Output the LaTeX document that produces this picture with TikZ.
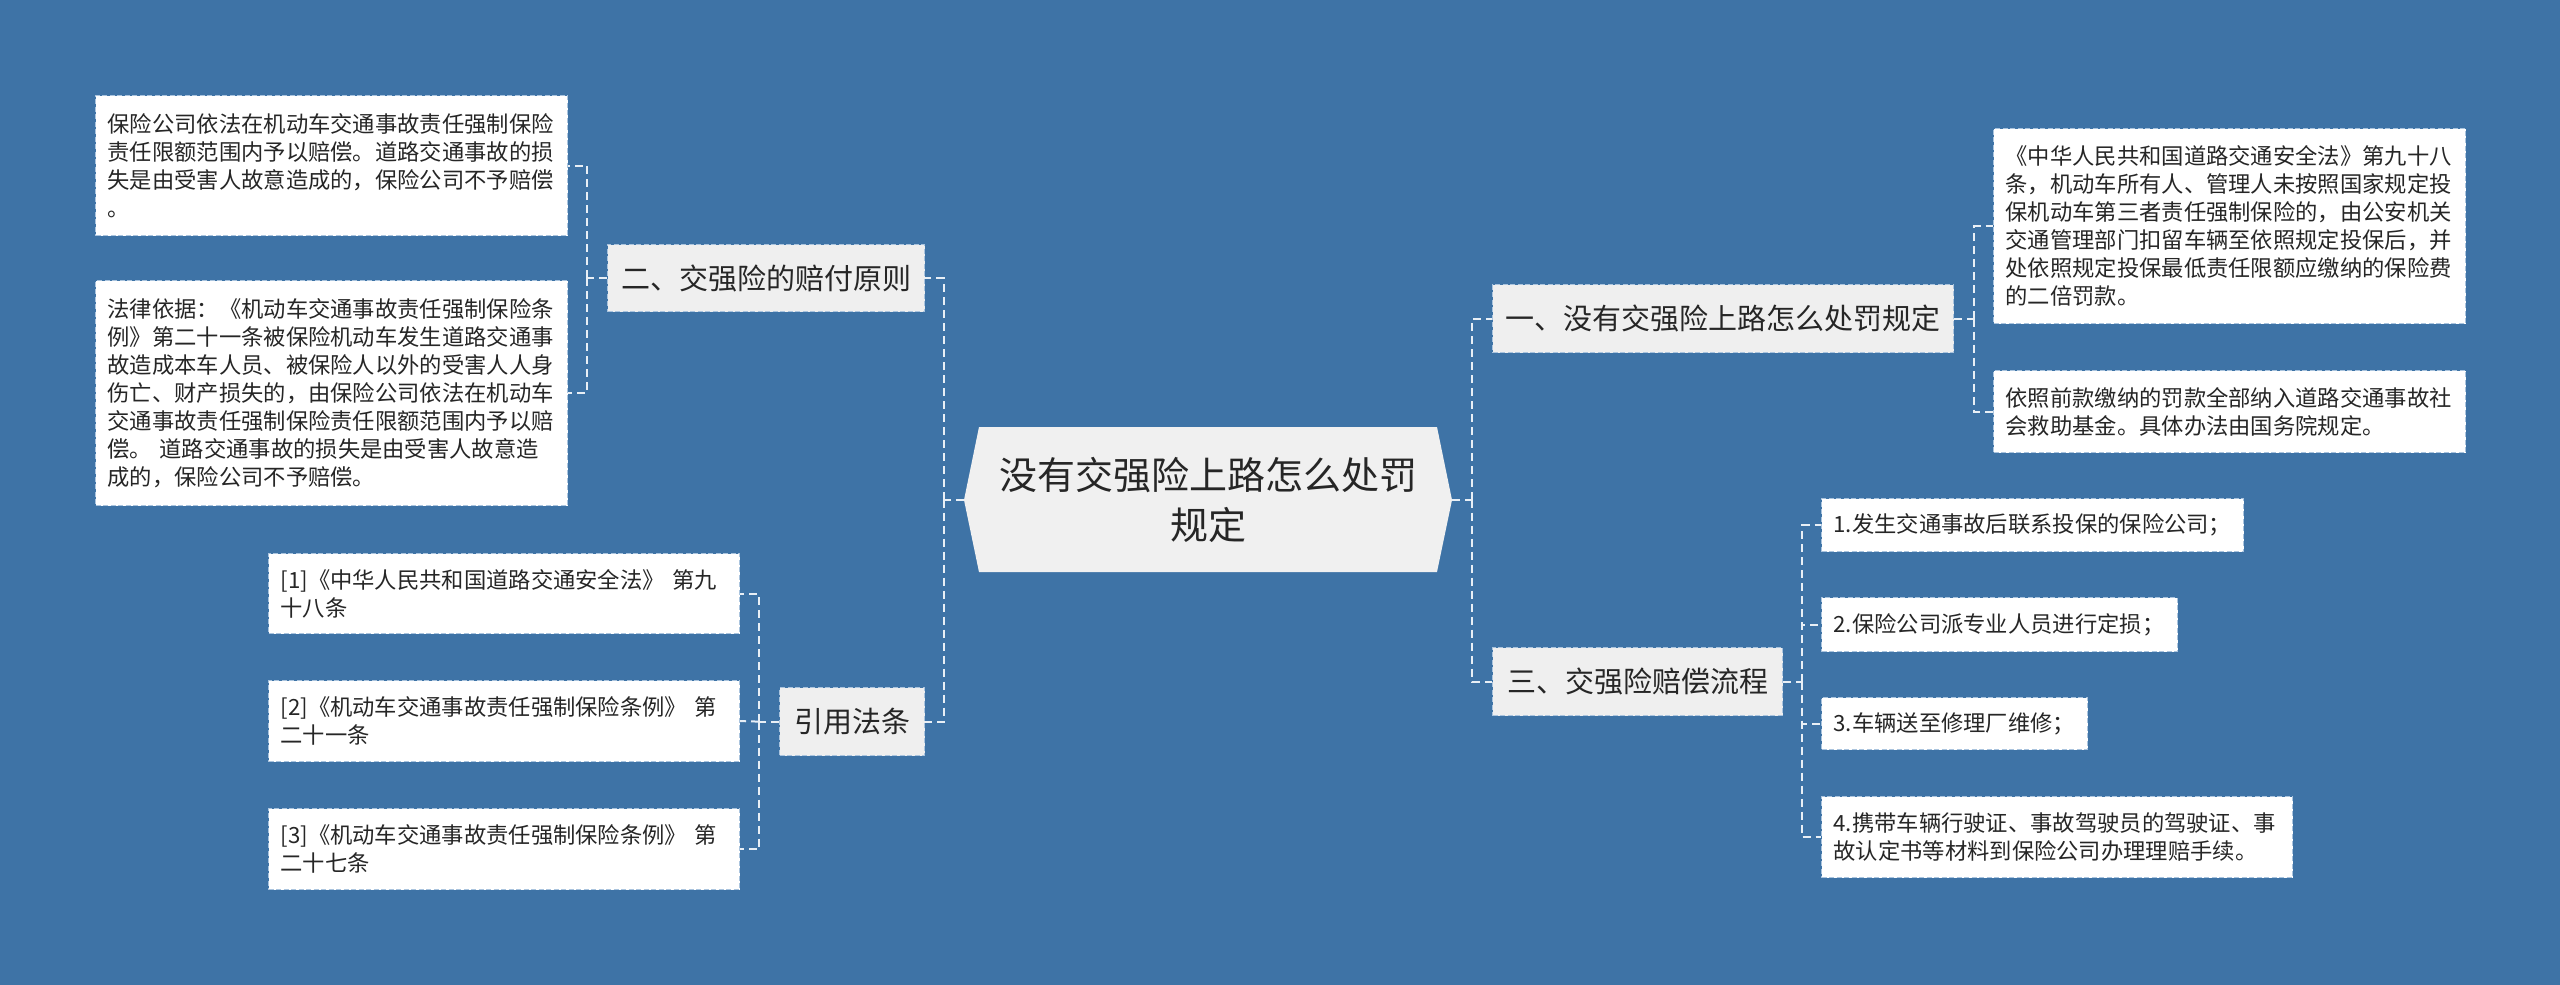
\documentclass[tikz,border=0pt]{standalone}
\usepackage{fontspec}
\setmainfont{Noto Sans CJK SC}
\definecolor{bg}{RGB}{62,115,166}
\definecolor{lnk}{RGB}{232,239,246}
\definecolor{bord}{RGB}{170,196,222}
\definecolor{txt}{RGB}{38,38,38}
\definecolor{lvone}{RGB}{239,239,239}
\definecolor{rootfill}{RGB}{240,240,240}
\begin{document}
\begin{tikzpicture}[x=1pt,y=-1pt,
  conn/.style={draw=lnk, line width=2pt, dash pattern=on 8pt off 5pt},
  leaf/.style={draw=bord, line width=1.2pt, dash pattern=on 5pt off 2.5pt, fill=white, anchor=north west,
    inner xsep=12pt, inner ysep=0pt, align=left, text=txt, font=\fontsize{22.3}{28}\selectfont},
  topic/.style={draw=bord, line width=1.2pt, dash pattern=on 5pt off 2.5pt, fill=lvone, anchor=north west,
    inner sep=0pt, align=center, text=txt, font=\fontsize{29}{36}\selectfont},
  rootnode/.style={inner sep=0pt, align=center, text=txt, font=\fontsize{38}{50}\selectfont}
]
\useasboundingbox (0,0) rectangle (2560,985);
\fill[bg] (0,0) rectangle (2560,985);

% central node
\fill[rootfill] (964,500) -- (979,427) -- (1437,427) -- (1452,500) -- (1437,572) -- (979,572) -- cycle;
\node[rootnode, minimum width=488pt, minimum height=145pt] (root) at (1208,499.5) {没有交强险上路怎么处罚\\规定};

% level one
\node[topic, minimum width=317pt, minimum height=67pt] (two) at (607,244) {二、交强险的赔付原则};
\node[topic, minimum width=145pt, minimum height=68pt] (cite) at (779,687) {引用法条};
\node[topic, minimum width=461pt, minimum height=68pt] (one) at (1492,284) {一、没有交强险上路怎么处罚规定};
\node[topic, minimum width=290pt, minimum height=68pt] (three) at (1492,647) {三、交强险赔偿流程};

% leaves of two
\node[leaf, minimum width=472pt, minimum height=140pt, text width=448pt] (a1) at (95,95)
 {保险公司依法在机动车交通事故责任强制保险\\责任限额范围内予以赔偿。道路交通事故的损\\失是由受害人故意造成的，保险公司不予赔偿\\。};
\node[leaf, minimum width=472pt, minimum height=225pt, text width=448pt] (a2) at (95,280)
 {法律依据：《机动车交通事故责任强制保险条\\例》第二十一条被保险机动车发生道路交通事\\故造成本车人员、被保险人以外的受害人人身\\伤亡、财产损失的，由保险公司依法在机动车\\交通事故责任强制保险责任限额范围内予以赔\\偿。 道路交通事故的损失是由受害人故意造\\成的，保险公司不予赔偿。};

% leaves of cite
\node[leaf, minimum width=471pt, minimum height=80pt, text width=447pt] (d1) at (268,553)
 {[1]《中华人民共和国道路交通安全法》 第九\\十八条};
\node[leaf, minimum width=471pt, minimum height=81pt, text width=447pt] (d2) at (268,680)
 {[2]《机动车交通事故责任强制保险条例》 第\\二十一条};
\node[leaf, minimum width=471pt, minimum height=81pt, text width=447pt] (d3) at (268,808)
 {[3]《机动车交通事故责任强制保险条例》 第\\二十七条};

% leaves of one
\node[leaf, minimum width=472pt, minimum height=195pt, text width=448pt] (b1) at (1993,128)
 {《中华人民共和国道路交通安全法》第九十八\\条，机动车所有人、管理人未按照国家规定投\\保机动车第三者责任强制保险的，由公安机关\\交通管理部门扣留车辆至依照规定投保后，并\\处依照规定投保最低责任限额应缴纳的保险费\\的二倍罚款。};
\node[leaf, minimum width=472pt, minimum height=82pt, text width=448pt] (b2) at (1993,370)
 {依照前款缴纳的罚款全部纳入道路交通事故社\\会救助基金。具体办法由国务院规定。};

% leaves of three
\node[leaf, minimum width=422pt, minimum height=53pt, text width=398pt] (c1) at (1821,498)
 {1.发生交通事故后联系投保的保险公司；};
\node[leaf, minimum width=356pt, minimum height=54pt, text width=332pt] (c2) at (1821,597)
 {2.保险公司派专业人员进行定损；};
\node[leaf, minimum width=266pt, minimum height=52pt, text width=242pt] (c3) at (1821,697)
 {3.车辆送至修理厂维修；};
\node[leaf, minimum width=471pt, minimum height=81pt, text width=447pt] (c4) at (1821,796)
 {4.携带车辆行驶证、事故驾驶员的驾驶证、事\\故认定书等材料到保险公司办理理赔手续。};

% connectors
\coordinate (LT) at (944,499.5);
\coordinate (RT) at (1472,499.5);
\draw[conn] (root.west) -- (LT);
\draw[conn] (LT) |- (two.east);
\draw[conn] (LT) |- (cite.east);
\draw[conn] (root.east) -- (RT);
\draw[conn] (RT) |- (one.west);
\draw[conn] (RT) |- (three.west);

\draw[conn] (two.west) -- ++(-20,0) coordinate (T2);
\draw[conn] (T2) |- (a1.east);
\draw[conn] (T2) |- (a2.east);

\draw[conn] (cite.west) -- ++(-20,0) coordinate (T4);
\draw[conn] (T4) |- (d1.east);
\draw[conn] (T4) -- (d2.east);
\draw[conn] (T4) |- (d3.east);

\draw[conn] (one.east) -- ++(20,0) coordinate (T1);
\draw[conn] (T1) |- (b1.west);
\draw[conn] (T1) |- (b2.west);

\draw[conn] (three.east) -- ++(19,0) coordinate (T3);
\draw[conn] (T3) |- (c1.west);
\draw[conn] (T3) |- (c2.west);
\draw[conn] (T3) |- (c3.west);
\draw[conn] (T3) |- (c4.west);
\end{tikzpicture}
\end{document}
